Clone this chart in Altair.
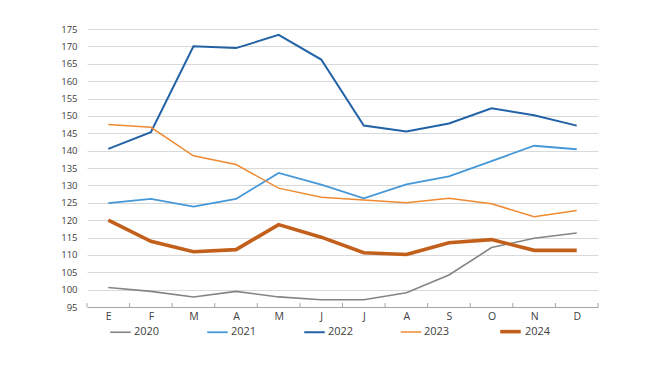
import altair as alt
import pandas as pd
import json

months = ["E", "F", "M", "A", "M", "J", "J", "A", "S", "O", "N", "D"]
years = ["2020", "2021", "2022", "2023", "2024"]
v2020 = [100.6, 99.5, 97.9, 99.5, 97.9, 97.1, 97.1, 99.1, 104.2, 112.1, 114.8, 116.3]
v2021 = [124.9, 126.1, 123.9, 126.1, 133.6, 130.2, 126.3, 130.3, 132.6, 137.0, 141.4, 140.4]
v2022 = [140.5, 145.3, 170.0, 169.5, 173.3, 166.2, 147.2, 145.5, 147.8, 152.2, 150.2, 147.2]
v2023 = [147.5, 146.7, 138.5, 136.0, 129.2, 126.6, 125.8, 125.0, 126.3, 124.7, 121.0, 122.8]
v2024 = [120.0, 113.9, 110.9, 111.5, 118.7, 115.1, 110.6, 110.1, 113.5, 114.4, 111.3, 111.3]
y_ticks = list(range(95, 176, 5))

colors = ["#848484", "#4598d8", "#2262a6", "#ef8a32", "#c2601b"]
widths = [1.6, 1.8, 2.0, 1.5, 3.6]

series = [v2020, v2021, v2022, v2023, v2024]
rows = []
for y, vals in zip(years, series):
    for i, v in enumerate(vals):
        rows.append({"pos": i + 0.5, "value": v, "year": y})
df = pd.DataFrame(rows)
ticks_df = pd.DataFrame({"pos": list(range(len(months) + 1))})

W, H = 511, 278
FONT = "Open Sans"
label_expr = json.dumps(months) + "[floor(datum.value)]"

x_axis = alt.Axis(values=[i + 0.5 for i in range(12)], labelExpr=label_expr,
                  ticks=False, grid=False, title=None, domainColor="#a6a6a6",
                  labelFont=FONT, labelFontSize=10.5, labelColor="#404040",
                  labelPadding=4)
x_scale = alt.Scale(domain=[0, 12], nice=False, zero=False)

leg = alt.Legend(title=None, orient="none", direction="horizontal",
                 legendX=22, legendY=290, symbolType="stroke",
                 symbolSize=420, labelFont=FONT, labelFontSize=11,
                 labelColor="#404040", columnPadding=43, labelOffset=2)

lines = alt.Chart(df).mark_line(strokeCap="butt", strokeJoin="miter").encode(
    x=alt.X("pos:Q", scale=x_scale, axis=x_axis),
    y=alt.Y("value:Q", scale=alt.Scale(domain=[95, 175], nice=False, zero=False),
            axis=alt.Axis(values=y_ticks, title=None, ticks=False, domain=False,
                          gridColor="#d9d9d9", gridWidth=1, labelFont=FONT,
                          labelFontSize=9.5, labelColor="#404040", labelPadding=10)),
    color=alt.Color("year:N", scale=alt.Scale(domain=years, range=colors), legend=leg),
    strokeWidth=alt.StrokeWidth("year:N",
                                scale=alt.Scale(type="ordinal", domain=years, range=widths),
                                legend=leg),
)

tick_marks = alt.Chart(ticks_df).mark_rule(color="#a6a6a6", strokeWidth=1).encode(
    x=alt.X("pos:Q", scale=x_scale, axis=x_axis),
    y=alt.value(H - 4),
    y2=alt.value(H),
)

chart = alt.layer(lines, tick_marks).properties(
    width=W, height=H,
    autosize=alt.AutoSizeParams(type="none"),
    padding={"left": 79, "top": 21, "right": 36, "bottom": 50},
).configure(background="white").configure_view(strokeWidth=0, stroke="transparent")

chart.save("out.html", embed_options={"renderer": "svg", "actions": False})
